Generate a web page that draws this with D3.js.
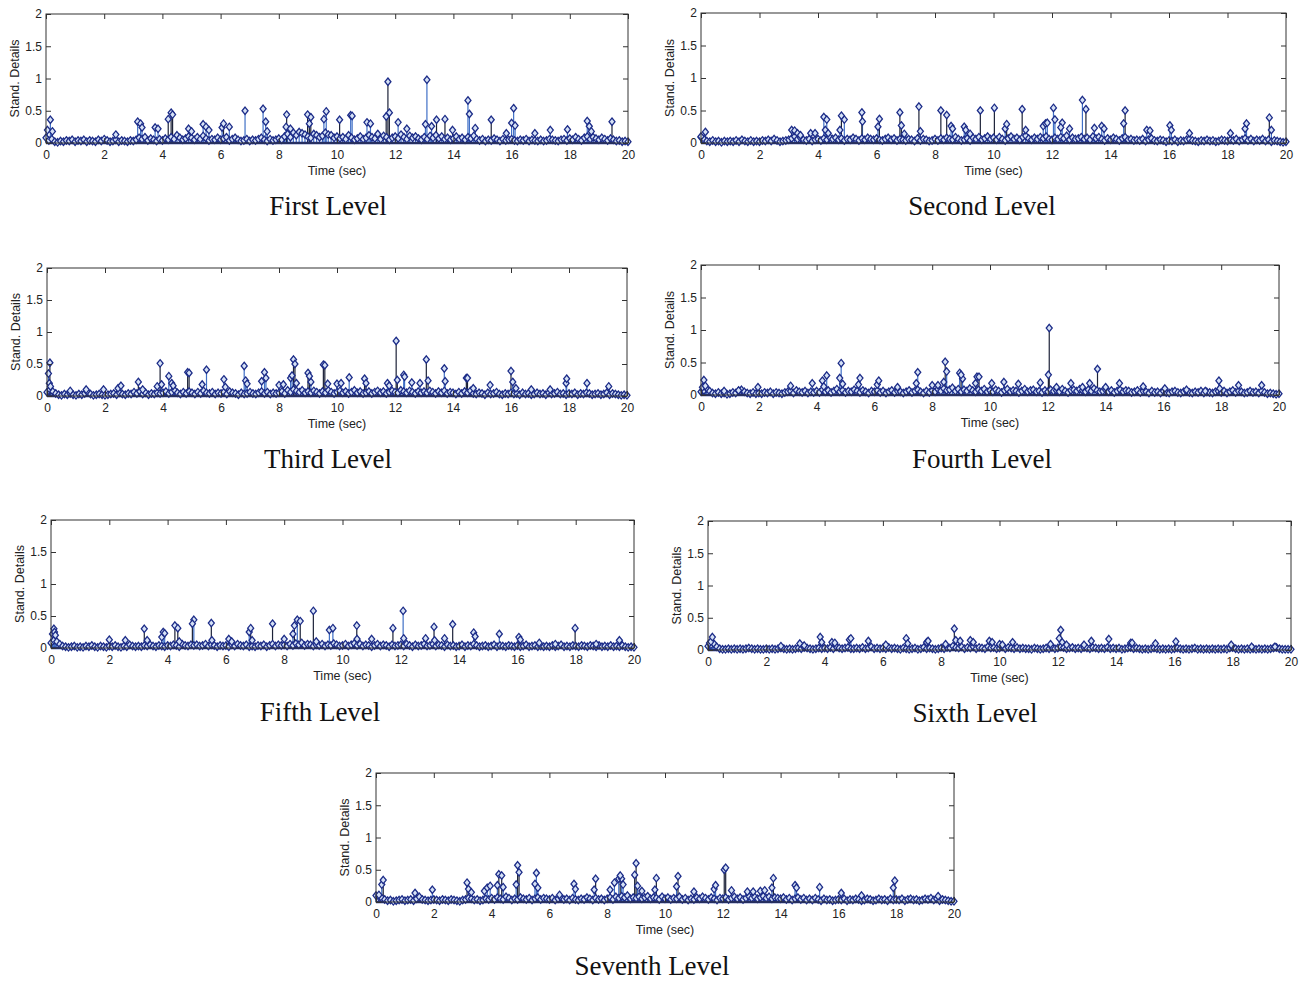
<!DOCTYPE html>
<html><head><meta charset="utf-8">
<script src="https://cdn.jsdelivr.net/npm/d3@7"></script>
<style>body{margin:0;background:#fff}svg{display:block}</style>
</head><body>
<svg id="c" width="1308" height="981"></svg>
<script>
const panelTitles = ["First Level","Second Level","Third Level","Fourth Level","Fifth Level","Sixth Level","Seventh Level"];
const xTicks = [0,2,4,6,8,10,12,14,16,18,20];
const yTicks = [0,0.5,1,1.5,2];
const xLabel = "Time (sec)";
const yLabel = "Stand. Details";
const sampleStep = 0.1;

const base1 = [.08,.04,.06,.02,.01,.03,.02,.04,.03,.05, .02,.04,.03,.05,.02,.04,.03,.02,.05,.03, .06,.04,.02,.03,.05,.02,.04,.03,.02,.04, .03,.05,.08,.06,.09,.04,.07,.05,.03,.06, .04,.07,.05,.09,.06,.12,.08,.05,.07,.10, .08,.05,.09,.06,.11,.07,.04,.06,.05,.08, .05,.07,.09,.04,.06,.08,.05,.03,.04,.06, .03,.05,.04,.06,.08,.05,.03,.06,.04,.05, .07,.05,.10,.14,.09,.16,.12,.17,.15,.13, .10,.08,.14,.12,.09,.11,.16,.13,.12,.08, .10,.07,.09,.06,.12,.08,.05,.07,.10,.06, .08,.12,.09,.07,.14,.06,.11,.09,.05,.08, .10,.07,.13,.09,.06,.11,.08,.10,.07,.05, .09,.06,.11,.08,.12,.07,.10,.06,.08,.05, .07,.10,.06,.08,.05,.09,.07,.11,.06,.04, .06,.03,.05,.04,.07,.05,.03,.06,.04,.05, .06,.04,.03,.05,.04,.06,.03,.05,.04,.03, .05,.03,.04,.06,.05,.04,.03,.05,.06,.04, .07,.05,.09,.06,.04,.08,.10,.06,.09,.07, .05,.08,.06,.04,.07,.05,.03,.04,.02,.03, .02];
const base2 = [.09,.06,.03,.02,.04,.02,.03,.01,.03,.02, .03,.02,.04,.02,.05,.03,.02,.04,.02,.03, .02,.04,.03,.05,.03,.06,.04,.02,.03,.04, .05,.07,.10,.06,.08,.05,.04,.06,.03,.05, .06,.04,.07,.05,.09,.06,.08,.05,.07,.04, .06,.05,.08,.06,.04,.07,.05,.08,.06,.05, .07,.05,.04,.06,.08,.05,.07,.04,.06,.05, .04,.06,.05,.03,.07,.04,.06,.05,.03,.04, .06,.04,.07,.05,.08,.06,.05,.09,.06,.04, .05,.07,.04,.08,.06,.09,.05,.07,.10,.06, .08,.05,.09,.06,.04,.07,.10,.06,.08,.05, .09,.11,.07,.05,.08,.06,.09,.07,.10,.06, .05,.08,.06,.09,.07,.11,.05,.08,.06,.07, .09,.06,.08,.05,.10,.07,.09,.06,.04,.07, .05,.08,.06,.04,.07,.09,.05,.06,.04,.05, .04,.06,.03,.05,.07,.04,.03,.05,.04,.02, .04,.03,.05,.02,.04,.03,.05,.06,.04,.03, .02,.04,.03,.05,.03,.04,.02,.03,.05,.04, .03,.05,.04,.06,.03,.05,.07,.04,.06,.03, .05,.04,.06,.03,.05,.02,.04,.03,.02,.01, .02];
const base3 = [.06,.10,.07,.04,.02,.01,.03,.02,.04,.02, .01,.03,.02,.04,.06,.03,.01,.02,.03,.02, .01,.02,.03,.04,.02,.05,.03,.02,.04,.03, .06,.04,.07,.03,.05,.02,.04,.03,.05,.04, .05,.07,.04,.06,.09,.05,.03,.06,.04,.07, .05,.03,.06,.04,.08,.05,.04,.06,.03,.05, .04,.06,.03,.07,.05,.04,.02,.05,.03,.04, .06,.04,.03,.05,.07,.04,.06,.03,.05,.04, .05,.07,.04,.09,.06,.10,.08,.06,.09,.05, .07,.05,.08,.06,.04,.07,.05,.09,.06,.04, .06,.08,.05,.07,.04,.06,.09,.05,.07,.04, .05,.07,.04,.06,.08,.05,.07,.04,.06,.08, .06,.05,.09,.07,.05,.08,.06,.04,.07,.05, .07,.05,.08,.06,.04,.07,.05,.08,.04,.06, .05,.03,.06,.04,.07,.05,.08,.04,.03,.05, .04,.02,.05,.03,.04,.06,.03,.02,.04,.03, .05,.03,.04,.02,.05,.03,.04,.02,.03,.05, .03,.04,.02,.05,.03,.04,.06,.03,.04,.02, .04,.03,.05,.02,.04,.03,.05,.04,.02,.03, .04,.02,.03,.05,.02,.04,.03,.02,.01,.02, .01];
const base4 = [.05,.07,.10,.06,.03,.02,.04,.02,.03,.01, .02,.04,.03,.06,.08,.05,.03,.02,.04,.02, .03,.02,.04,.03,.05,.02,.04,.03,.02,.04, .05,.06,.03,.07,.05,.04,.06,.03,.05,.04, .06,.04,.08,.05,.07,.04,.06,.09,.05,.07, .04,.06,.05,.08,.06,.04,.07,.05,.03,.06, .05,.07,.04,.06,.03,.05,.07,.04,.06,.05, .03,.05,.07,.04,.06,.08,.05,.03,.06,.04, .07,.05,.09,.06,.10,.07,.08,.11,.06,.09, .05,.08,.06,.10,.07,.05,.08,.06,.09,.05, .07,.05,.08,.06,.04,.07,.09,.05,.07,.06, .04,.06,.09,.05,.07,.08,.05,.06,.04,.07, .05,.08,.06,.07,.05,.09,.06,.04,.07,.08, .06,.09,.07,.05,.08,.06,.10,.07,.05,.06, .08,.05,.07,.04,.06,.08,.05,.07,.06,.04, .05,.07,.04,.06,.05,.03,.06,.04,.05,.03, .06,.04,.03,.05,.06,.04,.03,.05,.06,.04, .03,.05,.04,.06,.03,.05,.04,.03,.05,.06, .04,.06,.03,.05,.07,.04,.06,.05,.03,.04, .06,.04,.05,.03,.06,.04,.02,.03,.02,.01, .02];
const base5 = [.08,.12,.10,.06,.03,.02,.01,.02,.03,.01, .02,.01,.03,.02,.04,.02,.01,.03,.02,.01, .03,.02,.04,.02,.01,.03,.02,.05,.03,.02, .03,.02,.04,.03,.05,.03,.02,.04,.03,.02, .04,.03,.05,.04,.02,.06,.04,.03,.05,.04, .05,.03,.04,.06,.03,.05,.04,.02,.04,.03, .04,.02,.05,.03,.06,.04,.03,.05,.02,.03, .02,.04,.03,.05,.02,.04,.06,.03,.05,.04, .05,.03,.06,.04,.07,.05,.08,.04,.06,.05, .03,.05,.04,.06,.03,.05,.04,.07,.05,.03, .04,.06,.03,.05,.07,.04,.06,.03,.05,.04, .02,.04,.06,.03,.05,.04,.02,.05,.03,.04, .05,.03,.06,.04,.02,.05,.03,.04,.06,.03, .04,.06,.03,.05,.04,.02,.05,.03,.04,.02, .03,.05,.02,.04,.03,.06,.04,.02,.03,.04, .02,.03,.05,.02,.04,.03,.02,.04,.03,.02, .04,.02,.03,.05,.02,.03,.04,.02,.03,.02, .03,.02,.04,.02,.03,.05,.02,.03,.02,.04, .03,.02,.04,.03,.02,.04,.03,.02,.04,.02, .03,.02,.04,.02,.03,.02,.04,.02,.01,.02, .01];
const base6 = [.06,.08,.10,.05,.02,.01,.01,.02,.01,.02, .01,.02,.01,.02,.03,.02,.01,.02,.01,.01, .02,.01,.02,.01,.02,.03,.02,.01,.02,.01, .02,.03,.02,.04,.03,.02,.01,.02,.03,.02, .03,.02,.04,.02,.05,.03,.02,.03,.04,.02, .02,.03,.02,.04,.02,.03,.05,.02,.03,.02, .03,.02,.04,.02,.03,.02,.01,.03,.02,.01, .02,.03,.01,.02,.04,.02,.03,.02,.01,.02, .03,.02,.04,.03,.06,.04,.03,.05,.02,.04, .03,.05,.02,.04,.03,.02,.05,.03,.04,.02, .03,.05,.02,.04,.03,.02,.04,.02,.03,.02, .02,.01,.03,.02,.01,.02,.03,.02,.04,.02, .03,.05,.04,.02,.03,.04,.02,.03,.02,.04, .03,.02,.04,.03,.02,.03,.02,.04,.02,.03, .02,.03,.01,.02,.03,.04,.02,.03,.02,.01, .02,.01,.02,.03,.02,.01,.02,.01,.02,.01, .02,.03,.02,.01,.02,.01,.02,.03,.01,.02, .01,.02,.01,.02,.01,.02,.01,.02,.01,.03, .04,.02,.01,.02,.01,.02,.01,.02,.01,.02, .01,.02,.01,.02,.03,.04,.02,.01,.01,.01, .01];
const base7 = [.10,.08,.06,.04,.02,.03,.01,.02,.03,.04, .02,.03,.04,.02,.05,.08,.04,.03,.02,.03, .04,.03,.02,.04,.03,.02,.04,.03,.02,.01, .03,.04,.06,.05,.03,.04,.02,.03,.05,.04, .06,.04,.07,.05,.04,.08,.06,.03,.05,.04, .07,.05,.04,.06,.03,.05,.07,.04,.06,.05, .04,.06,.03,.05,.07,.04,.05,.03,.06,.04, .03,.05,.04,.07,.05,.03,.06,.04,.05,.03, .05,.07,.04,.08,.06,.09,.07,.10,.05,.07, .06,.08,.05,.07,.09,.05,.07,.06,.04,.08, .05,.07,.04,.06,.05,.08,.04,.06,.03,.05, .04,.07,.05,.08,.06,.04,.07,.05,.03,.06, .05,.07,.04,.06,.08,.05,.07,.04,.06,.09, .06,.08,.05,.07,.09,.06,.08,.05,.07,.06, .05,.07,.04,.06,.03,.05,.07,.04,.06,.03, .05,.03,.06,.04,.02,.05,.03,.04,.02,.03, .04,.03,.05,.02,.04,.03,.05,.04,.02,.03, .05,.04,.02,.03,.05,.03,.04,.02,.05,.03, .04,.03,.05,.02,.04,.05,.03,.04,.02,.03, .05,.04,.06,.03,.05,.02,.04,.03,.02,.01, .01];

const blue1 = [[0.05,.2],[0.15,.36],[0.22,.18],[2.4,.13],[3.15,.33],[3.25,.3],[3.3,.24],[3.75,.24],[3.85,.22],[4.9,.22],[5.0,.18],[5.4,.29],[5.5,.25],[5.6,.2],[6.05,.24],[6.3,.25],[6.84,.5],[7.46,.53],[7.55,.33],[7.6,.18],[8.25,.25],[8.4,.22],[9.55,.37],[9.63,.49],[10.47,.43],[10.52,.42],[11.03,.32],[11.15,.3],[12.1,.32],[12.4,.22],[13.04,.29],[13.09,.98],[13.25,.26],[14.5,.66],[14.55,.45],[14.75,.23],[15.82,.15],[16.0,.31],[16.07,.54],[16.12,.27],[16.8,.15],[17.33,.2],[17.92,.21],[18.6,.34],[18.67,.26],[18.74,.18]];
const dark1 = [[4.2,.37],[4.3,.47],[4.35,.44],[6.1,.3],[8.27,.44],[8.99,.44],[9.05,.3],[9.1,.4],[10.09,.36],[11.69,.41],[11.75,.95],[11.8,.47],[13.42,.36],[13.71,.37],[13.97,.2],[15.3,.36],[19.45,.33]];
const blue2 = [[0.0,.1],[0.15,.17],[3.1,.2],[3.2,.19],[3.3,.15],[3.4,.12],[3.75,.15],[3.9,.15],[4.2,.4],[4.3,.36],[4.25,.2],[4.35,.15],[4.75,.2],[4.9,.36],[5.52,.33],[6.05,.25],[6.95,.14],[7.5,.18],[8.55,.26],[8.6,.22],[9.0,.25],[9.05,.2],[9.2,.14],[10.4,.22],[11.1,.2],[11.7,.26],[11.78,.3],[11.84,.31],[12.05,.54],[12.1,.36],[12.35,.31],[12.3,.24],[12.6,.22],[13.04,.66],[13.45,.23],[13.7,.26],[13.78,.22],[14.45,.3],[15.24,.2],[15.35,.19],[16.03,.27],[16.08,.2],[16.7,.15],[18.1,.15],[18.6,.22],[18.65,.3],[19.5,.2]];
const dark2 = [[4.8,.42],[5.5,.47],[6.1,.37],[6.8,.47],[6.85,.27],[7.45,.56],[8.2,.5],[8.4,.43],[9.55,.5],[10.03,.54],[10.45,.29],[10.98,.52],[13.16,.52],[14.5,.5],[19.43,.39]];
const blue3 = [[0.05,.35],[0.08,.2],[0.12,.15],[0.8,.08],[1.35,.1],[1.95,.1],[2.45,.12],[2.55,.16],[3.3,.1],[3.8,.15],[3.95,.18],[4.2,.31],[4.3,.2],[4.35,.16],[5.35,.18],[5.5,.41],[6.1,.26],[6.15,.14],[6.8,.47],[6.85,.24],[6.9,.19],[7.4,.23],[7.5,.37],[7.55,.28],[8.0,.17],[8.15,.18],[8.4,.28],[8.45,.32],[8.6,.2],[9.1,.22],[9.68,.19],[10.0,.19],[10.14,.2],[10.42,.29],[11.74,.2],[11.8,.16],[12.3,.33],[12.33,.3],[12.58,.21],[12.86,.2],[13.7,.43],[13.73,.23],[14.7,.12],[15.28,.17],[16.06,.22],[16.17,.12],[16.7,.1],[17.35,.1],[17.9,.2],[17.92,.27],[18.62,.2],[19.37,.15]];
const dark3 = [[0.1,.52],[3.15,.22],[3.9,.51],[4.85,.37],[4.9,.36],[8.5,.57],[8.55,.5],[9.0,.36],[9.05,.31],[9.53,.49],[9.58,.48],[10.95,.27],[11.0,.2],[12.04,.86],[12.08,.25],[13.08,.57],[13.14,.24],[14.46,.28],[14.5,.28],[16.0,.39]];
const blue4 = [[0.05,.12],[0.1,.23],[0.15,.14],[0.8,.06],[1.3,.07],[1.97,.12],[3.1,.14],[3.85,.18],[4.2,.22],[4.25,.13],[4.35,.3],[4.8,.26],[4.85,.49],[4.9,.17],[5.45,.16],[5.5,.26],[6.1,.16],[6.15,.22],[6.8,.12],[7.45,.18],[7.5,.35],[8.0,.15],[8.2,.15],[8.4,.2],[8.5,.36],[8.95,.34],[9.05,.25],[9.5,.18],[10.06,.18],[10.48,.2],[10.98,.17],[11.74,.19],[12.3,.12],[12.8,.18],[13.2,.12],[13.45,.18],[14.0,.12],[14.48,.18],[15.3,.13],[16.05,.1],[16.8,.08],[17.45,.06],[17.92,.22],[17.95,.1],[18.6,.15],[19.4,.15]];
const dark4 = [[8.45,.51],[9.0,.31],[9.55,.28],[9.62,.28],[12.02,.31],[12.05,1.03],[13.72,.4]];
const blue5 = [[0.05,.22],[0.1,.3],[0.12,.25],[0.15,.2],[2.0,.13],[2.55,.12],[3.3,.12],[3.8,.17],[3.85,.25],[3.9,.23],[4.4,.1],[4.9,.44],[5.52,.12],[6.1,.14],[6.2,.1],[6.8,.25],[6.9,.12],[8.0,.14],[8.3,.22],[8.45,.44],[9.1,.1],[9.55,.28],[9.67,.31],[10.5,.14],[11.0,.14],[12.08,.58],[12.1,.15],[12.85,.15],[13.16,.12],[13.5,.15],[14.5,.24],[14.55,.18],[15.38,.22],[16.05,.17],[16.1,.13],[16.75,.08],[17.3,.06],[18.7,.06],[19.5,.12]];
const dark5 = [[3.2,.3],[4.25,.35],[4.35,.31],[4.85,.38],[5.5,.39],[6.85,.31],[7.6,.38],[8.35,.35],[8.55,.42],[9.0,.58],[10.49,.35],[11.73,.31],[13.14,.33],[13.78,.37],[17.98,.31]];
const blue6 = [[0.05,.11],[0.1,.13],[0.15,.2],[2.5,.06],[3.15,.1],[3.3,.07],[3.85,.2],[3.9,.12],[4.25,.12],[4.35,.11],[4.85,.16],[4.9,.18],[5.5,.14],[6.1,.08],[6.8,.18],[6.85,.1],[7.5,.12],[7.55,.14],[8.15,.09],[8.5,.15],[8.65,.14],[9.0,.15],[9.1,.12],[9.65,.14],[9.75,.12],[10.0,.09],[10.1,.08],[10.45,.12],[11.75,.09],[12.05,.18],[12.15,.12],[12.3,.08],[12.9,.08],[13.15,.14],[13.75,.17],[14.5,.11],[14.55,.11],[15.35,.1],[16.05,.13],[17.95,.08],[18.65,.05],[19.45,.05]];
const dark6 = [[8.45,.33],[12.1,.31]];
const blue7 = [[0.1,.11],[0.2,.27],[1.35,.14],[1.95,.19],[3.2,.2],[3.3,.15],[3.75,.17],[3.85,.22],[3.95,.25],[4.2,.26],[4.4,.23],[4.85,.27],[5.5,.28],[5.55,.45],[5.6,.22],[6.35,.11],[6.85,.28],[6.9,.2],[7.55,.19],[8.1,.19],[8.25,.3],[8.4,.36],[8.5,.36],[8.55,.27],[9.05,.25],[9.2,.17],[9.65,.19],[10.4,.24],[11.0,.16],[11.7,.2],[11.75,.26],[12.3,.18],[12.85,.16],[13.05,.16],[13.3,.17],[13.45,.18],[13.7,.22],[14.5,.26],[14.55,.22],[15.35,.23],[16.1,.14],[16.8,.1],[17.9,.22],[19.45,.09]];
const dark7 = [[0.25,.34],[3.15,.3],[4.25,.43],[4.35,.41],[4.9,.57],[4.95,.46],[7.6,.36],[8.45,.41],[8.95,.42],[9.0,.6],[9.7,.37],[10.45,.4],[12.05,.5],[12.1,.53],[13.75,.37],[17.95,.33]];

const bases = [base1,base2,base3,base4,base5,base6,base7];
const blues = [blue1,blue2,blue3,blue4,blue5,blue6,blue7];
const darks = [dark1,dark2,dark3,dark4,dark5,dark6,dark7];

const layout = [
  {l:46,r:628,t:14,b:143,tx:328,ty:215},
  {l:701,r:1286,t:13,b:143,tx:982,ty:215},
  {l:47,r:627,t:268,b:396,tx:328,ty:468},
  {l:701,r:1279,t:265,b:395,tx:982,ty:468},
  {l:51,r:634,t:520,b:648,tx:320,ty:721},
  {l:708,r:1291,t:521,b:650,tx:975,ty:722},
  {l:376,r:954,t:773,b:902,tx:652,ty:975}
];

const svg = d3.select("#c");
const diamond = {draw(ctx){const w=3.0,h=3.7;ctx.moveTo(0,-h);ctx.lineTo(w,0);ctx.lineTo(0,h);ctx.lineTo(-w,0);ctx.closePath();}};
const sym = d3.symbol().type(diamond);
const fontSans = "'Liberation Sans', Arial, sans-serif";

layout.forEach((L, k) => {
  const x = d3.scaleLinear().domain([0,20]).range([L.l, L.r]);
  const y = d3.scaleLinear().domain([0,2]).range([L.b, L.t]);
  const g = svg.append("g");
  const pts = bases[k].map((v,i)=>({t:i*sampleStep, v, c:"b"}))
    .concat(blues[k].map(d=>({t:d[0], v:d[1], c:"b"})))
    .concat(darks[k].map(d=>({t:d[0], v:d[1], c:"d"})));

  g.append("g").selectAll("line").data(pts).join("line")
    .attr("x1",d=>x(d.t)).attr("x2",d=>x(d.t))
    .attr("y1",y(0)).attr("y2",d=>y(d.v))
    .attr("stroke",d=>d.c==="d"?"#1c2238":"#3f6fc6")
    .attr("stroke-width",1.2);

  g.append("line").attr("x1",x(0)).attr("x2",x(20)).attr("y1",y(0)).attr("y2",y(0))
    .attr("stroke","#1b2d8f").attr("stroke-width",2.5);

  g.append("g").selectAll("path").data(pts).join("path")
    .attr("d",sym)
    .attr("transform",d=>`translate(${x(d.t)},${y(d.v)})`)
    .attr("fill","#d6e2f6").attr("stroke","#1c2c88").attr("stroke-width",1.3);

  const fmt = d => d3.format("~g")(d);
  const ax = [
    g.append("g").attr("transform",`translate(0,${L.b})`).call(d3.axisBottom(x).tickValues(xTicks).tickSize(-5).tickSizeOuter(0).tickPadding(7).tickFormat(fmt)),
    g.append("g").attr("transform",`translate(0,${L.t})`).call(d3.axisTop(x).tickValues(xTicks).tickSize(-5).tickSizeOuter(0).tickFormat("")),
    g.append("g").attr("transform",`translate(${L.l},0)`).call(d3.axisLeft(y).tickValues(yTicks).tickSize(-5).tickSizeOuter(0).tickPadding(4).tickFormat(fmt)),
    g.append("g").attr("transform",`translate(${L.r},0)`).call(d3.axisRight(y).tickValues(yTicks).tickSize(-5).tickSizeOuter(0).tickFormat(""))
  ];
  ax.forEach(a => {
    a.select(".domain").remove();
    a.selectAll(".tick line").attr("stroke","#333");
    a.selectAll("text").attr("font-family",fontSans).attr("font-size",12).attr("fill","#222");
  });
  g.append("rect").attr("x",L.l).attr("y",L.t).attr("width",L.r-L.l).attr("height",L.b-L.t)
    .attr("fill","none").attr("stroke","#333").attr("stroke-width",1);

  g.append("text").attr("x",(L.l+L.r)/2).attr("y",L.b+28).attr("dy","0.35em")
    .attr("text-anchor","middle").attr("font-family",fontSans).attr("font-size",12.5).attr("fill","#222").text(xLabel);
  g.append("text").attr("transform",`translate(${L.l-31},${(L.t+L.b)/2}) rotate(-90)`).attr("dy","0.35em")
    .attr("text-anchor","middle").attr("font-family",fontSans).attr("font-size",12.5).attr("fill","#222").text(yLabel);
  svg.append("text").attr("x",L.tx).attr("y",L.ty).attr("text-anchor","middle")
    .attr("font-family","'Liberation Serif','Times New Roman',serif").attr("font-size",27).attr("fill","#111")
    .text(panelTitles[k]);
});
</script>
</body></html>
